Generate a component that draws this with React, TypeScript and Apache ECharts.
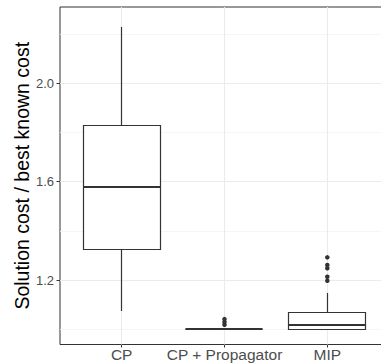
import React, { useEffect, useRef } from "react";
import * as echarts from "echarts";

const categories = ["CP", "CP + Propagator", "MIP"];
const positions = [1, 2, 3];
// [lower whisker, Q1, median, Q3, upper whisker]
const boxStats = [
  [1.075, 1.323, 1.578, 1.826, 2.228],
  [1.0, 1.0, 1.0, 1.0, 1.0],
  [1.0, 1.0, 1.018, 1.067, 1.146],
];
const outliersProp = [1.041, 1.029, 1.018];
const outliersMIP = [1.292, 1.261, 1.248, 1.213, 1.197];
const yMajor = [1.2, 1.6, 2.0];
const yMinor = [1.0, 1.4, 1.8, 2.2];
const yTitle = "Solution cost / best known cost";

const FONT = "'Liberation Sans', Arial, Helvetica, sans-serif";

export default function App() {
  const ref = useRef<HTMLDivElement>(null);
  useEffect(() => {
    if (!ref.current) return;
    const chart = echarts.init(ref.current, undefined, { renderer: "svg" });
    const crisp = (v: number) => Math.round(v - 0.5) + 0.5;
    const boxData = positions.map((p, i) => [p, ...boxStats[i]]);
    const outlierData: number[][] = [];
    outliersProp.forEach((v) => outlierData.push([positions[1], v]));
    outliersMIP.forEach((v) => outlierData.push([positions[2], v]));

    const gridLines: any[] = [];
    yMajor.forEach((v) =>
      gridLines.push({ yAxis: v, lineStyle: { color: "#ebebeb", width: 1.1, type: "solid" } })
    );
    yMinor.forEach((v) =>
      gridLines.push({ yAxis: v, lineStyle: { color: "#f2f2f2", width: 0.8, type: "solid" } })
    );
    positions.forEach((v) =>
      gridLines.push({ xAxis: v, lineStyle: { color: "#ebebeb", width: 1.1, type: "solid" } })
    );

    chart.setOption({
      animation: false,
      backgroundColor: "#ffffff",
      grid: {
        left: 60,
        top: 7,
        right: -8,
        bottom: 18.5,
        containLabel: false,
        outerBoundsMode: "none",
        show: true,
        borderColor: "#333333",
        borderWidth: 1,
        backgroundColor: "#ffffff",
      },
      xAxis: {
        type: "value",
        min: 0.4,
        max: 3.6,
        splitLine: { show: false },
        axisLine: { show: false },
        axisTick: {
          show: true,
          customValues: positions,
          length: 3,
          lineStyle: { color: "#333333", width: 1 },
        },
        axisLabel: {
          customValues: positions,
          formatter: (v: number) => categories[positions.indexOf(Math.round(v))] ?? "",
          fontSize: 15.5,
          color: "#4d4d4d",
          fontFamily: FONT,
          margin: 2,
        },
      },
      yAxis: {
        type: "value",
        min: 0.938,
        max: 2.309,
        splitLine: { show: false },
        axisLine: { show: false },
        axisTick: {
          show: true,
          customValues: yMajor,
          length: 3.5,
          lineStyle: { color: "#333333", width: 1 },
        },
        axisLabel: {
          customValues: yMajor,
          formatter: (v: number) => v.toFixed(1),
          fontSize: 13,
          color: "#4d4d4d",
          fontFamily: FONT,
          margin: 6,
        },
        name: yTitle,
        nameLocation: "middle",
        nameGap: 28.5,
        nameMoveOverlap: false,
        nameTextStyle: { fontSize: 19.5, color: "#000000", fontFamily: FONT },
      },
      series: [
        {
          type: "line",
          data: [],
          z: 1,
          silent: true,
          markLine: {
            z: 1,
            silent: true,
            symbol: ["none", "none"],
            label: { show: false },
            animation: false,
            data: gridLines,
          },
        },
        {
          type: "custom",
          z: 3,
          silent: true,
          data: boxData,
          renderItem: (params: any, api: any) => {
            const x = api.value(0);
            const lo = api.value(1);
            const q1 = api.value(2);
            const med = api.value(3);
            const q3 = api.value(4);
            const hi = api.value(5);
            const hw = 0.375;
            const cTop = api.coord([x, hi]);
            const cQ3 = api.coord([x, q3]);
            const cQ1 = api.coord([x, q1]);
            const cLo = api.coord([x, lo]);
            const cMed = api.coord([x, med]);
            const left = api.coord([x - hw, q3])[0];
            const right = api.coord([x + hw, q3])[0];
            const xc = crisp(cTop[0]);
            const stroke = "#333333";
            const children: any[] = [];
            children.push({
              type: "line",
              shape: { x1: xc, y1: Math.round(cQ3[1]), x2: xc, y2: Math.round(cTop[1]) },
              style: { stroke, lineWidth: 1.2 },
            });
            children.push({
              type: "line",
              shape: { x1: xc, y1: Math.round(cQ1[1]), x2: xc, y2: Math.round(cLo[1]) },
              style: { stroke, lineWidth: 1.2 },
            });
            const yTop = crisp(cQ3[1]);
            const yBot = crisp(cQ1[1]);
            children.push({
              type: "rect",
              shape: {
                x: crisp(left),
                y: yTop,
                width: Math.round(right - left),
                height: Math.max(0, yBot - yTop),
              },
              style: { fill: "#ffffff", stroke, lineWidth: 1.2 },
            });
            children.push({
              type: "line",
              shape: { x1: crisp(left), y1: Math.round(cMed[1]), x2: crisp(left) + Math.round(right - left), y2: Math.round(cMed[1]) },
              style: { stroke, lineWidth: 2 },
            });
            return { type: "group", children };
          },
        },
        {
          type: "scatter",
          z: 4,
          silent: true,
          data: outlierData,
          symbol: "circle",
          symbolSize: 4.5,
          itemStyle: { color: "#333333", opacity: 1, borderWidth: 0 },
        },
      ],
    });
    return () => chart.dispose();
  }, []);
  return (
    <div
      ref={ref}
      style={{ position: "absolute", left: 0, top: 0, width: 381, height: 363 }}
    />
  );
}
